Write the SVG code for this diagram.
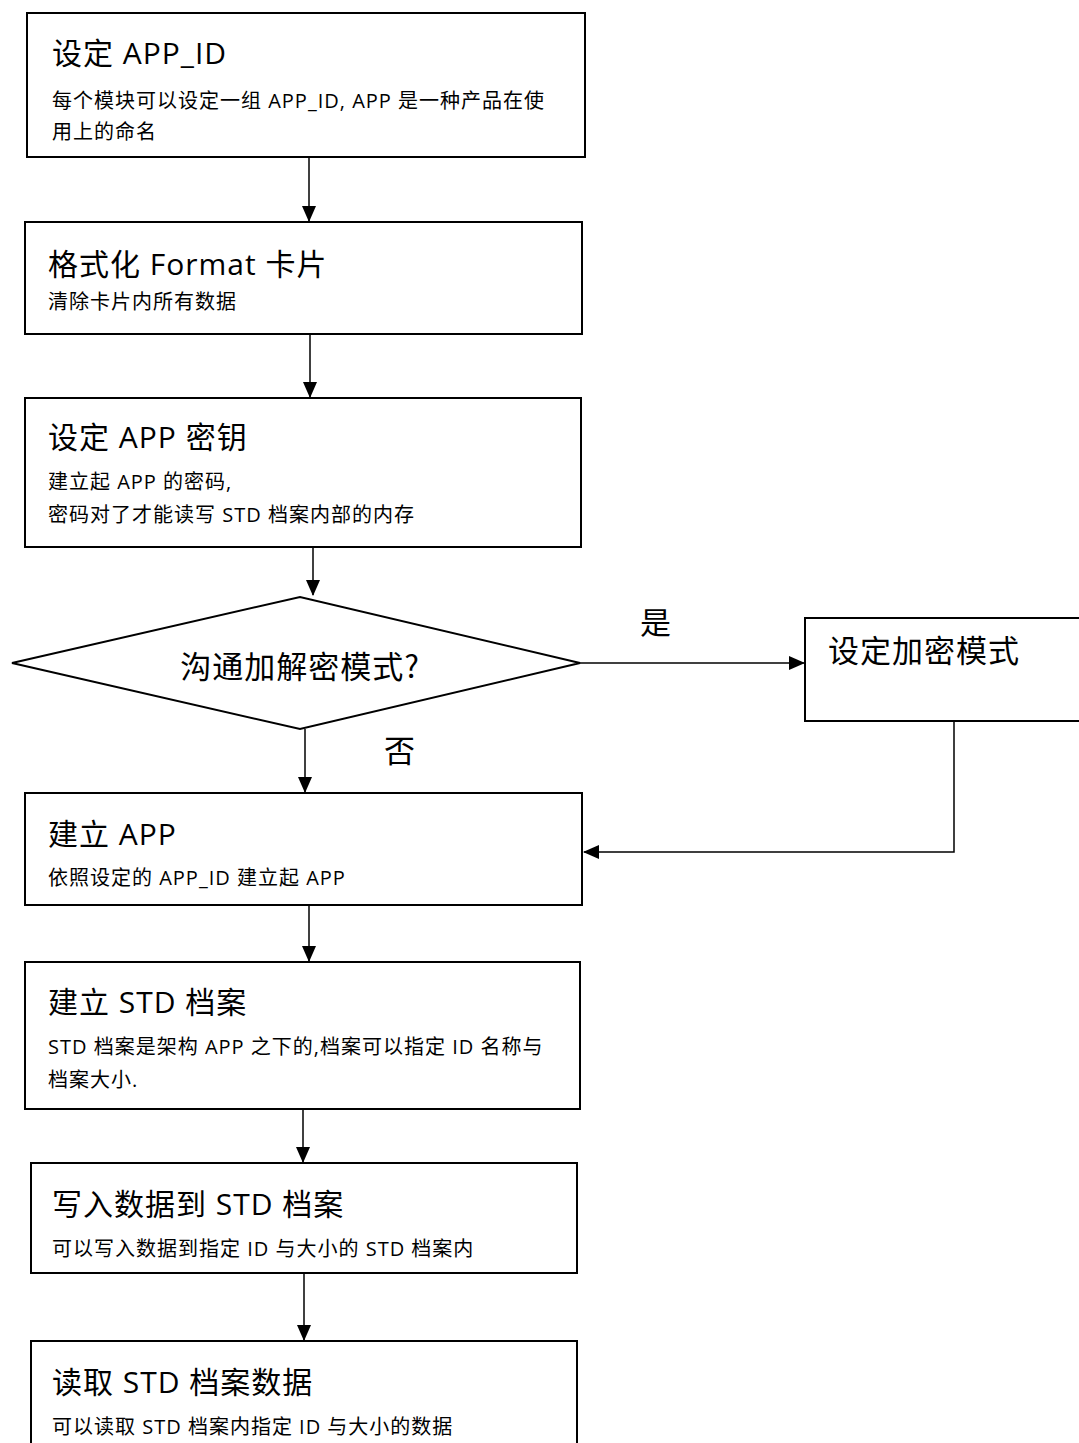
<svg xmlns="http://www.w3.org/2000/svg" width="1079" height="1443" viewBox="0 0 1079 1443">
<style>
.box{fill:#fff;stroke:#000;stroke-width:2}
.t{font-family:"Open Sans","Noto Sans CJK SC",sans-serif;font-size:30px;fill:#000;letter-spacing:1px}
.s{font-family:"Open Sans","Noto Sans CJK SC",sans-serif;font-size:20px;fill:#000;letter-spacing:1px}
.c{font-family:"Noto Sans CJK SC",sans-serif;font-size:31px;fill:#000;letter-spacing:1px}
.ln{fill:none;stroke:#000;stroke-width:1.5}
</style>
<defs>
<marker id="a2" markerWidth="16" markerHeight="16" refX="15" refY="8" orient="auto" markerUnits="userSpaceOnUse" viewBox="0 0 16 16">
<path d="M0,1 L16,8 L0,15 z" fill="#000"/>
</marker>
</defs>
<rect width="1079" height="1443" fill="#fff"/>
<g id="connectors">
<line class="ln" x1="309" y1="157" x2="309" y2="221" marker-end="url(#a2)"/>
<line class="ln" x1="310" y1="334" x2="310" y2="397" marker-end="url(#a2)"/>
<line class="ln" x1="313" y1="547" x2="313" y2="595" marker-end="url(#a2)"/>
<line class="ln" x1="305" y1="729" x2="305" y2="792" marker-end="url(#a2)"/>
<line class="ln" x1="580" y1="663" x2="804" y2="663" marker-end="url(#a2)"/>
<polyline class="ln" points="954,721 954,852 584,852" marker-end="url(#a2)"/>
<line class="ln" x1="309" y1="905" x2="309" y2="961" marker-end="url(#a2)"/>
<line class="ln" x1="303" y1="1109" x2="303" y2="1162" marker-end="url(#a2)"/>
<line class="ln" x1="304" y1="1273" x2="304" y2="1340" marker-end="url(#a2)"/>
<text class="c" x="640" y="634">是</text>
<text class="c" x="384" y="762">否</text>
</g>
<g id="n1">
<rect class="box" x="27" y="13" width="558" height="144"/>
<text class="t" x="52" y="64">设定 APP_ID</text>
<text class="s" x="52" y="108">每个模块可以设定一组 APP_ID, APP 是一种产品在使</text>
<text class="s" x="52" y="139">用上的命名</text>
</g>
<g id="n2">
<rect class="box" x="25" y="222" width="557" height="112"/>
<text class="t" x="48" y="275">格式化 Format 卡片</text>
<text class="s" x="48" y="309">清除卡片内所有数据</text>
</g>
<g id="n3">
<rect class="box" x="25" y="398" width="556" height="149"/>
<text class="t" x="48" y="448">设定 APP 密钥</text>
<text class="s" x="48" y="489">建立起 APP 的密码,</text>
<text class="s" x="48" y="522">密码对了才能读写 STD 档案内部的内存</text>
</g>
<g id="n4">
<polygon class="box" points="12,663 300,597 580,663 300,729"/>
<text class="c" x="300" y="678" text-anchor="middle">沟通加解密模式?</text>
</g>
<g id="n5">
<rect class="box" x="805" y="618" width="280" height="103"/>
<text class="c" x="828" y="662">设定加密模式</text>
</g>
<g id="n6">
<rect class="box" x="25" y="793" width="557" height="112"/>
<text class="t" x="48" y="845">建立 APP</text>
<text class="s" x="48" y="885">依照设定的 APP_ID 建立起 APP</text>
</g>
<g id="n7">
<rect class="box" x="25" y="962" width="555" height="147"/>
<text class="t" x="48" y="1013">建立 STD 档案</text>
<text class="s" x="48" y="1054">STD 档案是架构 APP 之下的,档案可以指定 ID 名称与</text>
<text class="s" x="48" y="1087">档案大小.</text>
</g>
<g id="n8">
<rect class="box" x="31" y="1163" width="546" height="110"/>
<text class="t" x="52" y="1215">写入数据到 STD 档案</text>
<text class="s" x="52" y="1256">可以写入数据到指定 ID 与大小的 STD 档案内</text>
</g>
<g id="n9">
<rect class="box" x="31" y="1341" width="546" height="110"/>
<text class="t" x="52" y="1393">读取 STD 档案数据</text>
<text class="s" x="52" y="1434">可以读取 STD 档案内指定 ID 与大小的数据</text>
</g>
</svg>
